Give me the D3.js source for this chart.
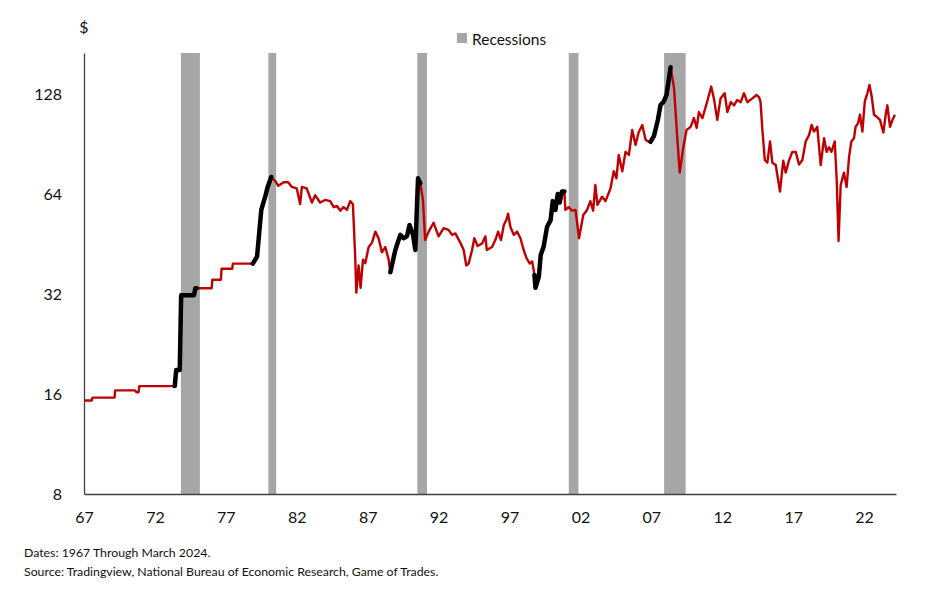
<!DOCTYPE html>
<html>
<head>
<meta charset="utf-8">
<script src="https://cdn.jsdelivr.net/npm/d3@7"></script>
<style>
  body { margin: 0; background: #fff; }
  svg { display: block; font-family: Lato, "Open Sans", sans-serif; }
</style>
</head>
<body>
<svg id="chart" width="949" height="590"></svg>
<script>
// oil price, [decimal year, $]
const price = [
  [1967.0, 15.3], [1967.55, 15.3], [1967.6, 15.6], [1969.15, 15.6], [1969.2, 16.4],
  [1970.6, 16.4], [1970.7, 16.2], [1970.85, 16.2], [1970.9, 16.9], [1973.4, 16.9],
  [1973.5, 18.9], [1973.75, 18.9], [1973.85, 31.7], [1974.75, 31.7], [1974.85, 33.3],
  [1974.95, 33.3], [1976.0, 33.3], [1976.05, 35.3], [1976.65, 35.3], [1976.7, 38.1],
  [1977.45, 38.1], [1977.5, 39.5], [1978.9, 39.5], [1979.2, 41.4], [1979.5, 57.3],
  [1979.8, 63.4], [1979.95, 67.2], [1980.2, 72], [1980.5, 69.8], [1980.7, 67.7],
  [1981.07, 69.4], [1981.4, 69.4], [1981.65, 67.2], [1982.0, 66.5], [1982.24, 59.7],
  [1982.36, 67.2], [1982.7, 66.5], [1983.07, 60.3], [1983.3, 63.4], [1983.65, 60.3],
  [1984.0, 61.4], [1984.36, 60.9], [1984.6, 58.4], [1984.83, 58.9], [1985.07, 57],
  [1985.3, 58.4], [1985.54, 57.3], [1985.77, 60.9], [1985.96, 59.6], [1986.12, 41.4],
  [1986.2, 32.3], [1986.36, 39], [1986.5, 33.4], [1986.67, 40.6], [1986.83, 39.6],
  [1987.07, 44.3], [1987.3, 45.6], [1987.54, 49.3], [1987.77, 47.1], [1988.0, 42.7],
  [1988.24, 44.3], [1988.48, 40.6], [1988.6, 37.2], [1988.95, 43.4], [1989.3, 48.2],
  [1989.53, 47.1], [1989.77, 47.7], [1989.95, 51.6], [1990.2, 48.2], [1990.36, 43.4],
  [1990.55, 71.3], [1990.71, 69], [1990.9, 61.4], [1991.05, 46.5], [1991.3, 49.3],
  [1991.65, 52.4], [1992.0, 47.7], [1992.36, 50.5], [1992.7, 49.9], [1992.95, 48.2],
  [1993.18, 48.7], [1993.54, 45.6], [1993.77, 43.4], [1993.95, 39], [1994.12, 39.5],
  [1994.36, 43.4], [1994.52, 47.1], [1994.75, 44.6], [1995.07, 45.4], [1995.3, 47.7],
  [1995.4, 43.4], [1995.77, 44.3], [1996.0, 46.5], [1996.2, 49.3], [1996.4, 46.5],
  [1996.6, 51.6], [1996.77, 53.4], [1996.9, 55.8], [1997.06, 51], [1997.3, 48.2],
  [1997.53, 49.3], [1997.77, 47.1], [1998.0, 43.4], [1998.2, 41], [1998.43, 39.5],
  [1998.6, 40.1], [1998.76, 36.5], [1998.83, 33.4], [1999.07, 36.1], [1999.2, 41.9],
  [1999.4, 44.3], [1999.65, 51], [1999.9, 53.4], [2000.05, 60.9], [2000.24, 57.3],
  [2000.4, 64], [2000.54, 60.3], [2000.7, 65.1], [2000.87, 65.1], [2000.94, 57.3],
  [2001.17, 58.4], [2001.4, 57], [2001.65, 57.3], [2001.9, 47.1], [2002.2, 55.3],
  [2002.47, 57.3], [2002.7, 60.9], [2002.9, 57], [2003.05, 68.1], [2003.2, 59.3],
  [2003.53, 62.8], [2003.77, 60.9], [2004.12, 66.5], [2004.35, 74.9], [2004.54, 71.3],
  [2004.7, 83.9], [2004.95, 74.9], [2005.18, 85.7], [2005.42, 83.9], [2005.65, 99.7],
  [2005.89, 89.9], [2006.1, 98], [2006.36, 103.2], [2006.6, 93], [2006.83, 91.8],
  [2006.94, 91.8], [2007.18, 95.5], [2007.46, 106.9], [2007.65, 118.6], [2007.88, 121.5],
  [2008.07, 127.1], [2008.36, 154], [2008.6, 133], [2008.83, 94.2], [2009.0, 74.2],
  [2009.25, 88.2], [2009.48, 99.7], [2009.77, 101.9], [2010.0, 108.3], [2010.2, 101.2],
  [2010.35, 112.9], [2010.6, 108.3], [2010.94, 121.5], [2011.22, 134.7], [2011.41, 124.1],
  [2011.65, 106.9], [2011.88, 124.1], [2012.17, 128.6], [2012.36, 112.9], [2012.6, 120.9],
  [2012.83, 118.3], [2013.06, 122.8], [2013.3, 120.9], [2013.53, 128.6], [2013.77, 120.9],
  [2014.12, 124.1], [2014.42, 127.1], [2014.6, 125], [2014.7, 120.9], [2014.83, 99.7],
  [2015.0, 81], [2015.18, 79.5], [2015.37, 92.1], [2015.53, 79.5], [2015.77, 78.2],
  [2016.07, 65.1], [2016.3, 80.6], [2016.47, 74.2], [2016.7, 80.6], [2016.94, 85.7],
  [2017.18, 85.7], [2017.41, 78.5], [2017.65, 81], [2017.88, 92.1], [2018.12, 96.3],
  [2018.3, 103.2], [2018.47, 98.6], [2018.7, 101.9], [2018.94, 78.2], [2019.18, 94.2],
  [2019.36, 85.7], [2019.53, 88.5], [2019.7, 85.7], [2019.93, 92.1], [2020.07, 70.5],
  [2020.2, 46.2], [2020.35, 68.1], [2020.58, 74.2], [2020.77, 67.2], [2020.94, 82.6],
  [2021.1, 92.1], [2021.29, 94.2], [2021.4, 101.9], [2021.57, 104.4], [2021.71, 110.8],
  [2021.88, 98.6], [2022.05, 121.5], [2022.23, 128.6], [2022.38, 136.2], [2022.54, 125.5],
  [2022.7, 110.8], [2022.89, 109.3], [2023.12, 106.9], [2023.36, 98], [2023.52, 110.6],
  [2023.64, 118.3], [2023.83, 101.9], [2024.0, 106.9], [2024.17, 110.8]
]

// run-ups before recessions, drawn in black
const spikes = [
  [1973.4, 1974.95], [1978.9, 1980.2], [1988.55, 1990.71], [1998.76, 2000.87], [2006.9, 2008.36]
]

// NBER recessions shown on the chart
const recessions = [
  [1973.83, 1975.17], [1980.0, 1980.55], [1990.5, 1991.18], [2001.18, 2001.86], [2007.9, 2009.42]
]

const yTicks = [8, 16, 32, 64, 128]
const xTicks = [1967, 1972, 1977, 1982, 1987, 1992, 1997, 2002, 2007, 2012, 2017, 2022]
const notes = [
  'Dates: 1967 Through March 2024.',
  'Source: Tradingview, National Bureau of Economic Research, Game of Trades.'
]

const margin = { top: 53, right: 53, bottom: 96, left: 84 }
const W = 949, H = 590
const width = W - margin.left - margin.right
const height = H - margin.top - margin.bottom

const svg = d3.select('#chart')
const g = svg.append('g').attr('transform', `translate(${margin.left},${margin.top})`)

const x = d3.scaleLinear().domain([1967, 2024.25]).range([0, width])
const y = d3.scaleLog().base(2).domain([8, 170]).range([height, 0])

// recession bands
g.append('g').selectAll('rect')
  .data(recessions)
  .join('rect')
  .attr('x', d => x(d[0]))
  .attr('width', d => x(d[1]) - x(d[0]))
  .attr('y', 0)
  .attr('height', height)
  .attr('fill', '#a6a6a6')

const line = d3.line()
  .x(d => x(d[0]))
  .y(d => y(d[1]))

g.append('path')
  .datum(price)
  .attr('d', line)
  .attr('fill', 'none')
  .attr('stroke', '#c00000')
  .attr('stroke-width', 2.4)
  .attr('stroke-linejoin', 'round')

g.append('g').selectAll('path')
  .data(spikes.map(s => price.filter(d => d[0] >= s[0] && d[0] <= s[1])))
  .join('path')
  .attr('d', line)
  .attr('fill', 'none')
  .attr('stroke', '#000')
  .attr('stroke-width', 4.5)
  .attr('stroke-linejoin', 'round')
  .attr('stroke-linecap', 'round')

// axes
const yAxis = g.append('g')
  .call(d3.axisLeft(y).tickValues(yTicks).tickSize(0).tickPadding(22).tickFormat(d3.format('d')))
yAxis.select('.domain').attr('stroke', '#404040').attr('stroke-width', 1.3)
yAxis.selectAll('.tick text').attr('font-size', 16).attr('fill', '#111').attr('font-family', 'Lato, sans-serif')

const xAxis = g.append('g')
  .attr('transform', `translate(0,${height})`)
  .call(d3.axisBottom(x).tickValues(xTicks).tickSize(0).tickPadding(18)
    .tickFormat(d => String(d).slice(2)))
xAxis.select('.domain').attr('stroke', '#404040').attr('stroke-width', 1.3)
xAxis.selectAll('.tick text').attr('font-size', 16).attr('fill', '#111').attr('font-family', 'Lato, sans-serif')

// "$" unit label
svg.append('text')
  .attr('x', margin.left).attr('y', 33)
  .attr('text-anchor', 'middle')
  .attr('font-size', 16).attr('fill', '#111')
  .text('$')

// legend
svg.append('rect')
  .attr('x', 457).attr('y', 33).attr('width', 10).attr('height', 10)
  .attr('fill', '#a6a6a6')
svg.append('text')
  .attr('x', 472).attr('y', 45)
  .attr('font-size', 15.5).attr('fill', '#111')
  .text('Recessions')

// footnotes
svg.append('g').selectAll('text')
  .data(notes)
  .join('text')
  .attr('x', 24)
  .attr('y', (d, i) => 557 + i * 19)
  .attr('font-size', 12.3)
  .attr('fill', '#111')
  .text(d => d)
</script>
</body>
</html>
